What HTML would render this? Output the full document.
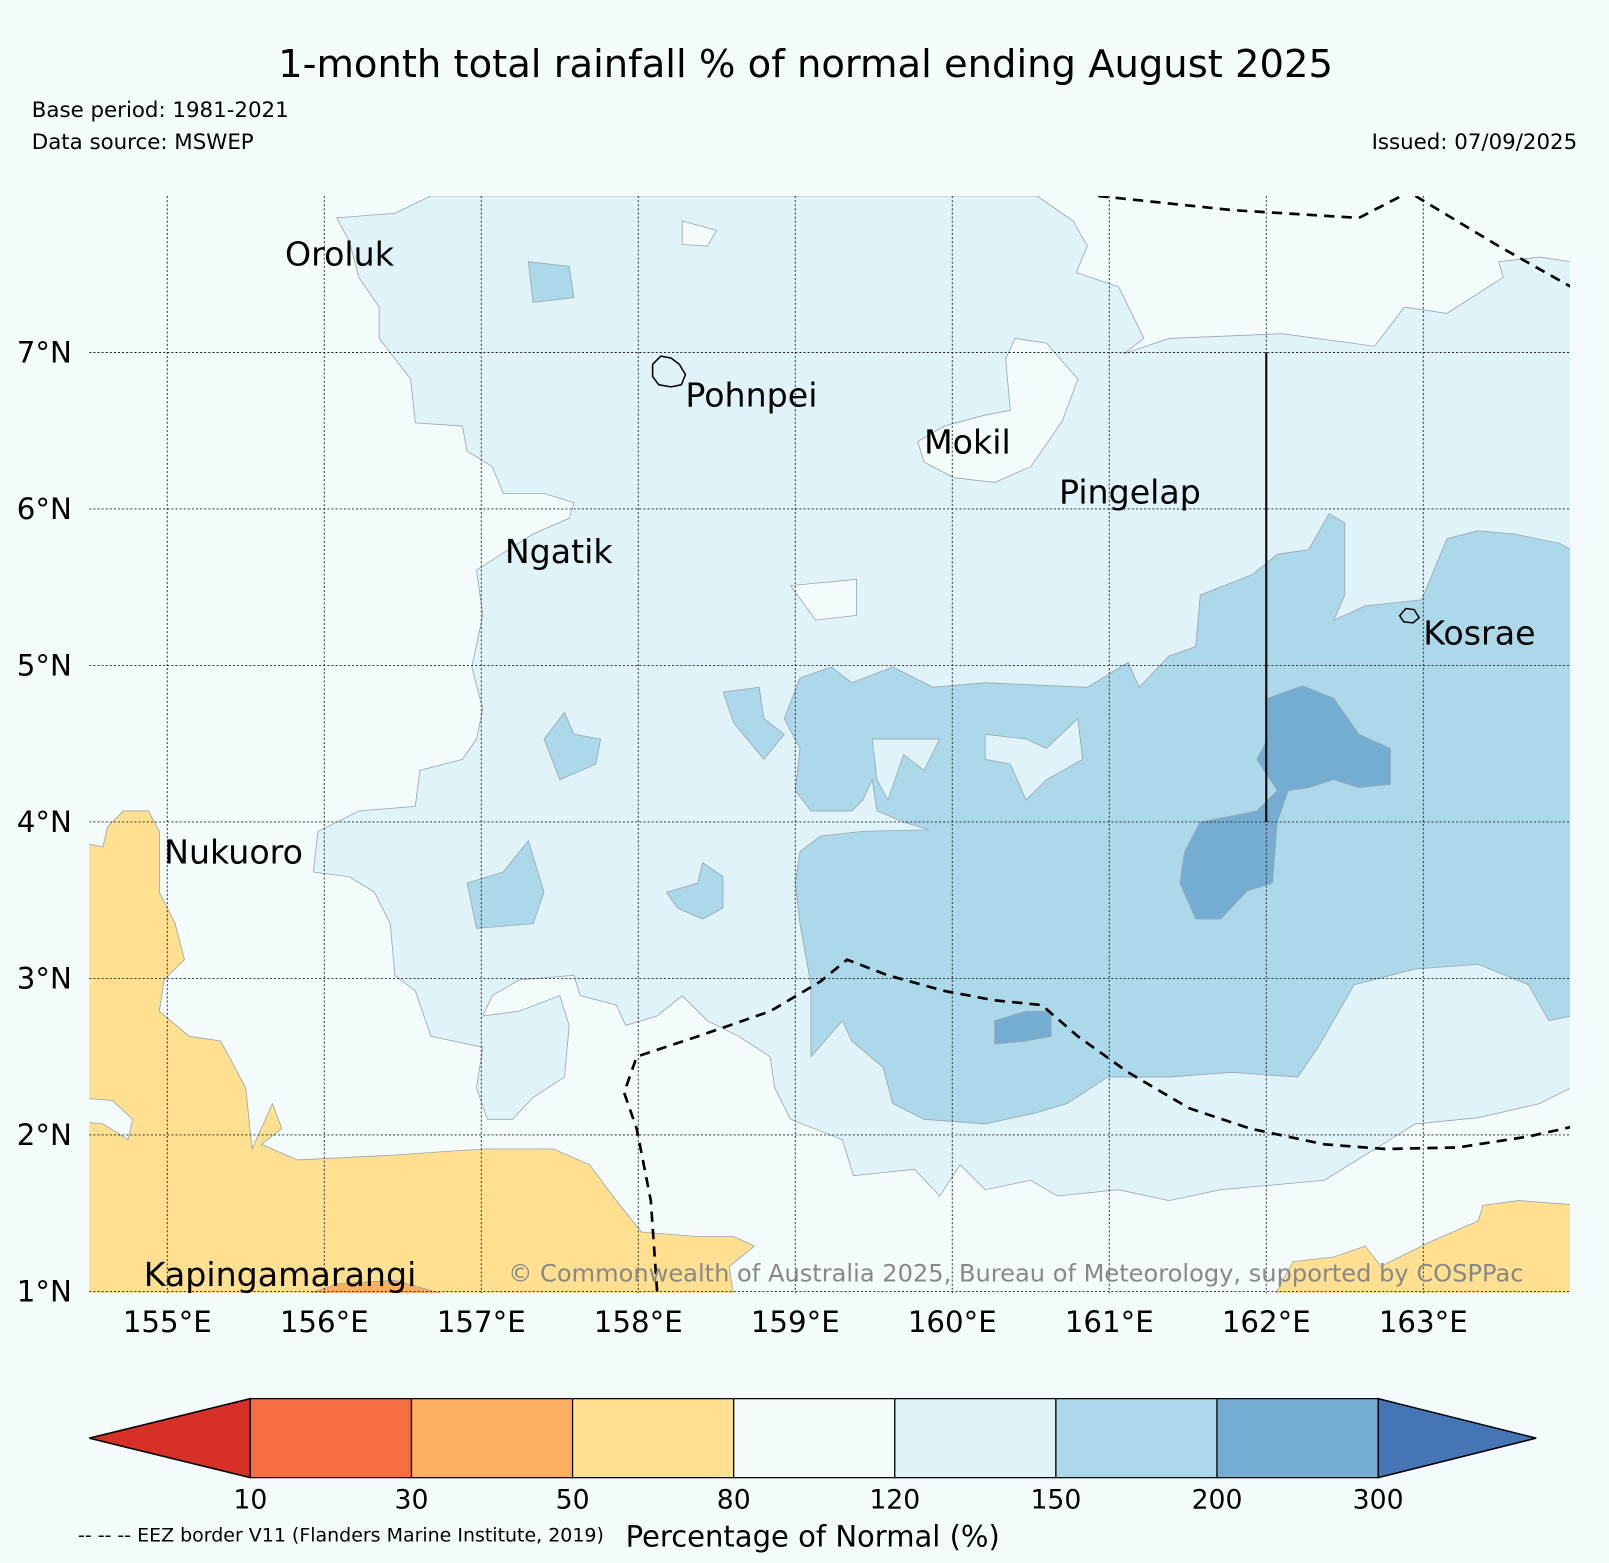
<!DOCTYPE html>
<html><head><meta charset="utf-8"><style>
body{margin:0;background:#f3fbfd;}
svg{display:block;font-family:"DejaVu Sans","Liberation Sans",sans-serif;}
</style></head><body>
<svg id="s" width="1609" height="1563" xmlns="http://www.w3.org/2000/svg">
<rect width="1609" height="1563" fill="#f3fbfd"/>
<g transform="scale(1.02615)">
<text x="785" y="75" font-size="37.5" text-anchor="middle">1-month total rainfall % of normal ending August 2025</text>
<text x="31" y="114" font-size="20.8">Base period: 1981-2021</text>
<text x="31" y="145" font-size="20.8">Data source: MSWEP</text>
<text x="1537" y="145" font-size="20.8" text-anchor="end">Issued: 07/09/2025</text>
<defs><clipPath id="mc"><rect x="87" y="191" width="1443" height="1069"/></clipPath></defs>
<g id="map" clip-path="url(#mc)"></g>
<g id="axes"></g>
<g id="cbar"></g>
<text x="792" y="1507" font-size="28.3" text-anchor="middle">Percentage of Normal (%)</text>
<text x="76" y="1502" font-size="18.5">-- -- -- EEZ border V11 (Flanders Marine Institute, 2019)</text>
</g>
</svg>
<script>
const lonTicks=[155,156,157,158,159,160,161,162,163];
const latTicks=[1,2,3,4,5,6,7];
const cbBounds=[10,30,50,80,120,150,200,300];
const cbColors=["#f46d43","#fdae61","#fee090","#f3fbfd","#e0f3f8","#abd9e9","#74add1"];
const cbUnder="#d73027", cbOver="#4575b4";
const lightBlue=[[156.08,7.86],[156.45,7.89],[156.68,8],[160.54,8],[160.77,7.84],[160.86,7.68],[160.79,7.51],[161.06,7.42],[161.22,7.09],[161.09,6.99],[161.38,7.09],[162.1,7.12],[162.69,7.04],[162.88,7.29],[163.15,7.25],[163.51,7.48],[163.48,7.58],[163.74,7.61],[163.94,7.58],[163.94,2.3],[163.74,2.2],[163.35,2.11],[162.95,2.07],[162.37,1.71],[161.71,1.65],[161.38,1.58],[161.06,1.65],[160.67,1.61],[160.5,1.71],[160.21,1.65],[160.05,1.81],[159.92,1.61],[159.76,1.78],[159.37,1.74],[159.3,1.97],[158.97,2.1],[158.87,2.3],[158.84,2.5],[158.64,2.63],[158.44,2.73],[158.28,2.89],[158.12,2.76],[157.92,2.7],[157.86,2.83],[157.63,2.89],[157.59,3.02],[157.24,2.99],[157.07,2.89],[157.01,2.76],[157.24,2.79],[157.5,2.89],[157.56,2.7],[157.53,2.37],[157.33,2.24],[157.2,2.1],[157.04,2.1],[156.97,2.3],[157.01,2.56],[156.68,2.63],[156.58,2.92],[156.45,3.02],[156.42,3.35],[156.32,3.55],[156.16,3.65],[155.93,3.68],[155.96,3.94],[156.22,4.07],[156.58,4.1],[156.61,4.33],[156.88,4.4],[156.97,4.53],[157.01,4.72],[156.94,4.99],[157.01,5.32],[156.97,5.61],[157.33,5.84],[157.56,5.94],[157.59,6.04],[157.4,6.1],[157.14,6.1],[157.07,6.27],[156.91,6.37],[156.88,6.53],[156.58,6.55],[156.55,6.83],[156.35,7.09],[156.35,7.29],[156.22,7.48],[156.16,7.71]];
const lightHoles=[
[[160.4,7.09],[160.6,7.06],[160.8,6.83],[160.7,6.56],[160.5,6.27],[160.27,6.17],[160.01,6.2],[159.82,6.3],[159.78,6.43],[159.95,6.53],[160.21,6.6],[160.37,6.63],[160.34,6.96]],
[[158.97,5.51],[159.39,5.55],[159.39,5.32],[159.13,5.29]],
[[158.28,7.84],[158.5,7.78],[158.44,7.68],[158.28,7.69]]];
const midBlue=[[159.03,4.92],[159.23,4.99],[159.36,4.89],[159.62,4.99],[159.88,4.86],[160.21,4.89],[160.86,4.86],[161.12,5.02],[161.19,4.86],[161.38,5.06],[161.55,5.12],[161.58,5.45],[161.91,5.58],[162.07,5.71],[162.27,5.74],[162.4,5.97],[162.5,5.91],[162.5,5.45],[162.43,5.29],[162.63,5.38],[162.99,5.42],[163.15,5.81],[163.35,5.86],[163.58,5.84],[163.87,5.78],[163.94,5.74],[163.94,2.76],[163.8,2.73],[163.67,2.96],[163.35,3.09],[162.95,3.06],[162.56,2.96],[162.33,2.56],[162.2,2.37],[161.78,2.4],[161.38,2.37],[160.99,2.37],[160.73,2.2],[160.53,2.14],[160.21,2.07],[159.82,2.1],[159.62,2.2],[159.56,2.43],[159.36,2.6],[159.3,2.73],[159.1,2.5],[159.1,2.96],[159.03,3.35],[159,3.61],[159.03,3.81],[159.16,3.91],[159.43,3.94],[159.85,3.95],[159.69,4.0],[159.52,4.07],[159.49,4.27],[159.43,4.14],[159.36,4.07],[159.1,4.07],[159.0,4.2],[159.03,4.47],[158.93,4.66]];
const midHoles=[
[[159.49,4.53],[159.92,4.53],[159.82,4.33],[159.69,4.43],[159.59,4.14],[159.52,4.27]],
[[160.21,4.56],[160.47,4.53],[160.6,4.47],[160.8,4.66],[160.83,4.4],[160.6,4.27],[160.47,4.14],[160.37,4.37],[160.21,4.4]]];
const midBlobs=[
[[158.54,4.83],[158.77,4.86],[158.8,4.66],[158.93,4.56],[158.8,4.4],[158.61,4.63]],
[[157.3,7.58],[157.56,7.55],[157.59,7.35],[157.33,7.32]],
[[157.4,4.53],[157.53,4.7],[157.59,4.56],[157.76,4.53],[157.73,4.37],[157.5,4.27]],
[[156.91,3.61],[157.14,3.68],[157.3,3.88],[157.4,3.55],[157.33,3.35],[156.97,3.32]],
[[158.18,3.55],[158.38,3.61],[158.41,3.74],[158.54,3.65],[158.54,3.45],[158.41,3.38],[158.25,3.45]]];
const darkBlue=[
[[162.01,4.79],[162.23,4.87],[162.43,4.79],[162.59,4.56],[162.79,4.47],[162.79,4.24],[162.59,4.22],[162.43,4.27],[162.27,4.22],[162.14,4.2],[162.07,4.0],[162.04,3.61],[161.88,3.56],[161.71,3.38],[161.55,3.38],[161.45,3.61],[161.48,3.81],[161.58,4.0],[161.94,4.07],[162.07,4.2],[161.94,4.4],[162.01,4.53]],
[[160.27,2.73],[160.47,2.79],[160.63,2.79],[160.63,2.63],[160.47,2.6],[160.27,2.58]]];
const yellowLeft=[[154.4,3.88],[154.59,3.84],[154.62,3.97],[154.72,4.07],[154.88,4.07],[154.95,3.94],[154.95,3.55],[155.05,3.35],[155.11,3.12],[154.98,2.99],[154.95,2.79],[155.14,2.63],[155.34,2.6],[155.41,2.47],[155.5,2.3],[155.54,1.91],[155.67,2.2],[155.73,2.04],[155.6,1.94],[155.83,1.84],[156.42,1.87],[157.01,1.91],[157.46,1.91],[157.69,1.81],[157.86,1.58],[158.02,1.38],[158.38,1.35],[158.61,1.35],[158.74,1.29],[158.58,1.16],[158.61,0.95],[154.4,0.95]];
const yellowHole=[[154.4,2.24],[154.65,2.22],[154.78,2.1],[154.75,1.97],[154.59,2.07],[154.4,2.09]];
const yellowRight=[[162.04,0.95],[162.17,1.19],[162.43,1.22],[162.63,1.29],[162.73,1.16],[163.05,1.32],[163.35,1.45],[163.38,1.55],[163.61,1.58],[164,1.55],[164,0.95]];
const orange=[[155.8,0.95],[156.09,1.05],[156.45,1.07],[156.88,0.95]];
const eezLines=[
[[160.93,8],[161.78,7.91],[162.59,7.86],[162.86,8]],
[[162.95,8],[163.48,7.68],[163.94,7.42]],
[[158.12,1],[158.08,1.58],[157.99,2.04],[157.91,2.27],[157.99,2.5],[158.38,2.63],[158.84,2.79],[159.16,2.98],[159.33,3.12],[159.59,3.02],[159.95,2.92],[160.27,2.86],[160.57,2.83],[160.8,2.63],[161.12,2.4],[161.51,2.17],[161.9,2.04],[162.37,1.94],[162.76,1.91],[163.22,1.92],[163.67,1.99],[163.94,2.05]]];
const boundaryLine=[[162.0,7],[162.0,4]];
const islandNames=["Oroluk","Pohnpei","Mokil","Pingelap","Ngatik","Kosrae","Nukuoro","Kapingamarangi"];
const islandLon=[155.75,158.3,159.82,160.68,157.15,163.0,154.98,154.85];
const islandLat=[7.62,6.72,6.42,6.1,5.72,5.2,3.8,1.1];

const NS="http://www.w3.org/2000/svg";
const X=lon=>86.5+(lon-154.5)*153;
const Y=lat=>191+(8-lat)*152.5;
function mk(t,a,p){const e=document.createElementNS(NS,t);for(const k in a)e.setAttribute(k,a[k]);p.appendChild(e);return e;}
function ring(pts){return "M"+pts.map(p=>X(p[0]).toFixed(1)+","+Y(p[1]).toFixed(1)).join("L")+"Z";}
const map=document.getElementById('map'), axes=document.getElementById('axes'), cb=document.getElementById('cbar');
function fillPath(d,color,name){const e=mk('path',{d:d,fill:color,stroke:'#9aa5ad','stroke-width':0.8,'fill-rule':'evenodd'},map);

}
fillPath(ring(lightBlue)+lightHoles.map(ring).join(""),cbColors[4],'contour-120-150');
fillPath(ring(midBlue)+midHoles.map(ring).join(""),cbColors[5],'contour-150-200');
midBlobs.forEach(b=>fillPath(ring(b),cbColors[5],'contour-150-200-patch'));
darkBlue.forEach(b=>fillPath(ring(b),cbColors[6],'contour-200-300'));
fillPath(ring(yellowLeft)+ring(yellowHole),cbColors[2],'contour-50-80-west');
fillPath(ring(yellowRight),cbColors[2],'contour-50-80-east');
fillPath(ring(orange),cbColors[1],'contour-30-50');
lonTicks.forEach(l=>{const e=mk('line',{x1:X(l),x2:X(l),y1:191,y2:1260,stroke:'#222','stroke-width':0.9,'stroke-dasharray':'2,2'},map);

});
latTicks.forEach(l=>{const e=mk('line',{x1:87,x2:1530,y1:Y(l),y2:Y(l),stroke:'#222','stroke-width':0.9,'stroke-dasharray':'2,2'},map);

});
eezLines.forEach(L=>{const e=mk('path',{d:"M"+L.map(p=>X(p[0])+","+Y(p[1])).join("L"),fill:'none',stroke:'#000','stroke-width':2.6,'stroke-dasharray':'10,7'},map);

});
{const e=mk('line',{x1:X(boundaryLine[0][0]),y1:Y(boundaryLine[0][1]),x2:X(boundaryLine[1][0]),y2:Y(boundaryLine[1][1]),stroke:'#000','stroke-width':2},map);

}
{const e=mk('path',{d:"M636,355 l8,-8 l10,2 l8,6 l6,10 l-4,10 l-10,2 l-12,-2 l-6,-8 z",fill:'none',stroke:'#000','stroke-width':1.5},map);

}
{const e=mk('path',{d:"M1364,600 l6,-7 l8,1 l5,8 l-6,5 l-9,-1 z",fill:'none',stroke:'#000','stroke-width':1.5},map);

}
islandNames.forEach((n,i)=>{const t=mk('text',{x:X(islandLon[i]),y:Y(islandLat[i])+10,'font-size':32.4,fill:'#000'},map);t.textContent=n;

});
{const t=mk('text',{x:990,y:1249,'font-size':23.5,fill:'#888','text-anchor':'middle'},map);t.textContent="© Commonwealth of Australia 2025, Bureau of Meteorology, supported by COSPPac";

}
lonTicks.forEach(l=>{const t=mk('text',{x:X(l),y:1298,'font-size':28.5,'text-anchor':'middle'},axes);t.textContent=l+"°E";

});
latTicks.forEach(l=>{const t=mk('text',{x:70,y:Y(l)+10,'font-size':28.5,'text-anchor':'end'},axes);t.textContent=l+"°N";

});
const cbX0=244, cbW=157, cbY=1363, cbH=77;
const cbx=i=>cbX0+i*cbW;
{const e=mk('polygon',{points:`${cbx(0)},${cbY} ${cbx(0)},${cbY+cbH} 87,${cbY+cbH/2}`,fill:cbUnder,stroke:'#000','stroke-width':1.5},cb);

}
{const n=cbColors.length;const e=mk('polygon',{points:`${cbx(n)},${cbY} ${cbx(n)},${cbY+cbH} 1497,${cbY+cbH/2}`,fill:cbOver,stroke:'#000','stroke-width':1.5},cb);

}
cbColors.forEach((c,i)=>{const e=mk('rect',{x:cbx(i),y:cbY,width:cbW,height:cbH,fill:c,stroke:'#000','stroke-width':1.2},cb);

});
cbBounds.forEach((b,i)=>{const t=mk('text',{x:cbx(i),y:1470,'font-size':26,'text-anchor':'middle'},cb);t.textContent=b;

});
</script>
</body></html>
